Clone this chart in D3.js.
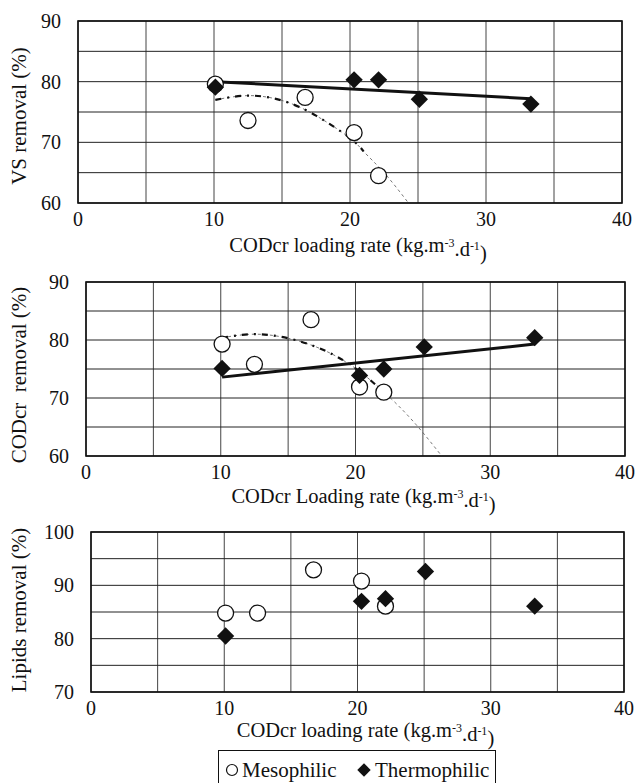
<!DOCTYPE html>
<html>
<head>
<meta charset="utf-8">
<script src="https://cdn.jsdelivr.net/npm/d3@7"></script>
<style>
  body { margin: 0; background: #fff; }
  svg { display: block; }
  text { font-family: "Liberation Serif", "DejaVu Serif", "Times New Roman", serif; fill: #111; }
</style>
</head>
<body>
<svg id="chart" width="638" height="783"></svg>
<script>
// loading rates (kg COD m-3 d-1)
const loadingMeso = [10.1, 12.5, 16.7, 20.3, 22.1];
const loadingThermo = [10.1, 20.3, 22.1, 25.1, 33.3];

// removal efficiencies (%)
const vsMeso = [79.6, 73.6, 77.4, 71.6, 64.5];
const vsThermo = [79.1, 80.3, 80.3, 77.1, 76.3];
const codMeso = [79.3, 75.8, 83.5, 71.9, 71.0];
const codThermo = [75.1, 73.9, 75.0, 78.8, 80.4];
const lipidMeso = [84.8, 84.8, 92.9, 90.8, 86.1];
const lipidThermo = [80.5, 87.0, 87.5, 92.6, 86.1];

// trend lines [loading, removal]
const vsThermoTrend = [[10.1, 80.0], [33.3, 77.2]];
const codThermoTrend = [[10.1, 73.6], [33.3, 79.3]];
const vsMesoCurve = [[10.1, 77.0], [12.5, 77.7], [15, 76.9], [17.5, 74.4], [20, 70.7], [21, 68.5], [22.5, 65.0], [24.3, 60]];
const codMesoCurve = [[10.1, 80.4], [12.5, 81.0], [15, 80.3], [17.5, 78.4], [20, 75.1], [22.5, 70.2], [24.5, 65.4], [26.4, 60]];

const xTicks = [0, 10, 20, 30, 40];
const xGrid = [0, 5, 10, 15, 20, 25, 30, 35, 40];

const panels = [
  { yTitle: "VS removal (%)", xTitle: "CODcr loading rate (kg.m", yDomain: [60, 90],
    meso: vsMeso, thermo: vsThermo, trend: vsThermoTrend, curve: vsMesoCurve, thick: 6,
    left: 78, right: 622, top: 21, bottom: 203, titleY: 252, yTitleY: 116 },
  { yTitle: "CODcr  removal (%)", xTitle: "CODcr Loading rate (kg.m", yDomain: [60, 90],
    meso: codMeso, thermo: codThermo, trend: codThermoTrend, curve: codMesoCurve, thick: 6,
    left: 86, right: 625, top: 282, bottom: 456, titleY: 503, yTitleY: 375 },
  { yTitle: "Lipids removal (%)", xTitle: "CODcr loading rate (kg.m", yDomain: [70, 100],
    meso: lipidMeso, thermo: lipidThermo, trend: null, curve: null,
    left: 91, right: 624, top: 532, bottom: 692, titleY: 737, yTitleY: 610 }
];

const svg = d3.select("#chart");
svg.append("rect").attr("width", 638).attr("height", 783).attr("fill", "#fff");

const diamond = d3.symbol().type(d3.symbolSquare).size(150);
const diamondSmall = d3.symbol().type(d3.symbolSquare).size(90);

panels.forEach((p, i) => {
  const x = d3.scaleLinear().domain([0, 40]).range([p.left, p.right]);
  const y = d3.scaleLinear().domain(p.yDomain).range([p.bottom, p.top]);
  const yGrid = d3.range(p.yDomain[0], p.yDomain[1] + 1, 5);
  const yTicks = d3.range(p.yDomain[0], p.yDomain[1] + 1, 10);
  const g = svg.append("g");

  // grid
  g.selectAll(".vg").data(xGrid).enter().append("line")
    .attr("x1", d => x(d)).attr("x2", d => x(d))
    .attr("y1", p.top).attr("y2", p.bottom)
    .attr("stroke", "#444").attr("stroke-width", 1);
  g.selectAll(".hg").data(yGrid).enter().append("line")
    .attr("x1", p.left).attr("x2", p.right)
    .attr("y1", d => y(d)).attr("y2", d => y(d))
    .attr("stroke", "#222").attr("stroke-width", 1);
  g.append("rect")
    .attr("x", p.left).attr("y", p.top)
    .attr("width", p.right - p.left).attr("height", p.bottom - p.top)
    .attr("fill", "none").attr("stroke", "#111").attr("stroke-width", 1.6);

  // tick labels
  g.selectAll(".yt").data(yTicks).enter().append("text")
    .attr("x", p.left - 17).attr("y", d => y(d)).attr("dy", "0.35em")
    .attr("text-anchor", "end").style("font-size", "20px").text(d => d);
  g.selectAll(".xt").data(xTicks).enter().append("text")
    .attr("x", d => x(d)).attr("y", p.bottom + 23)
    .attr("text-anchor", "middle").style("font-size", "20px").text(d => d);

  // axis titles
  const xt = g.append("text")
    .attr("x", (p.left + p.right) / 2 + 8).attr("y", p.titleY)
    .attr("text-anchor", "middle").style("font-size", "20.5px");
  xt.append("tspan").text(p.xTitle);
  xt.append("tspan").attr("dy", "-0.45em").style("font-size", "12px").text("-3");
  xt.append("tspan").attr("dy", "0.45em").text(".d");
  xt.append("tspan").attr("dy", "-0.45em").style("font-size", "12px").text("-1");
  xt.append("tspan").attr("dy", "0.45em").text(")");

  g.append("text")
    .attr("transform", `translate(26,${p.yTitleY}) rotate(-90)`)
    .attr("text-anchor", "middle").style("font-size", "21px")
    .style("white-space", "pre")
    .text(p.yTitle);

  const clipId = "clip" + i;
  svg.append("clipPath").attr("id", clipId).append("rect")
    .attr("x", p.left).attr("y", p.top)
    .attr("width", p.right - p.left).attr("height", p.bottom - p.top);
  const plot = g.append("g").attr("clip-path", `url(#${clipId})`);

  // mesophilic polynomial trend (dashed)
  if (p.curve) {
    const line = d3.line().x(d => x(d[0])).y(d => y(d[1])).curve(d3.curveNatural);
    plot.append("path").attr("d", line(p.curve))
      .attr("fill", "none").attr("stroke", "#555")
      .attr("stroke-width", 0.8).attr("stroke-dasharray", "3,3");
    plot.append("path").attr("d", line(p.curve.slice(0, p.thick)))
      .attr("fill", "none").attr("stroke", "#111")
      .attr("stroke-width", 2.2).attr("stroke-dasharray", "6,6,2,6");
  }
  // thermophilic linear trend
  if (p.trend) {
    plot.append("line")
      .attr("x1", x(p.trend[0][0])).attr("y1", y(p.trend[0][1]))
      .attr("x2", x(p.trend[1][0])).attr("y2", y(p.trend[1][1]))
      .attr("stroke", "#111").attr("stroke-width", 3);
  }

  // markers
  g.selectAll(".meso").data(p.meso).enter().append("circle")
    .attr("cx", (d, j) => x(loadingMeso[j])).attr("cy", d => y(d))
    .attr("r", 8).attr("fill", "#fff").attr("stroke", "#111").attr("stroke-width", 1.3);
  g.selectAll(".thermo").data(p.thermo).enter().append("path")
    .attr("d", diamond)
    .attr("transform", (d, j) => `translate(${x(loadingThermo[j])},${y(d)}) rotate(45)`)
    .attr("fill", "#111");
});

// legend
const lg = svg.append("g");
lg.append("rect").attr("x", 218.5).attr("y", 750.5).attr("width", 277).attr("height", 40)
  .attr("fill", "#fff").attr("stroke", "#111").attr("stroke-width", 1);
lg.append("circle").attr("cx", 232).attr("cy", 770).attr("r", 5.5)
  .attr("fill", "#fff").attr("stroke", "#111").attr("stroke-width", 1.2);
lg.append("text").attr("x", 242).attr("y", 777).style("font-size", "21px").text("Mesophilic");
lg.append("path").attr("d", diamondSmall)
  .attr("transform", "translate(364,770) rotate(45)").attr("fill", "#111");
lg.append("text").attr("x", 375).attr("y", 777).style("font-size", "21px").text("Thermophilic");
</script>
</body>
</html>
